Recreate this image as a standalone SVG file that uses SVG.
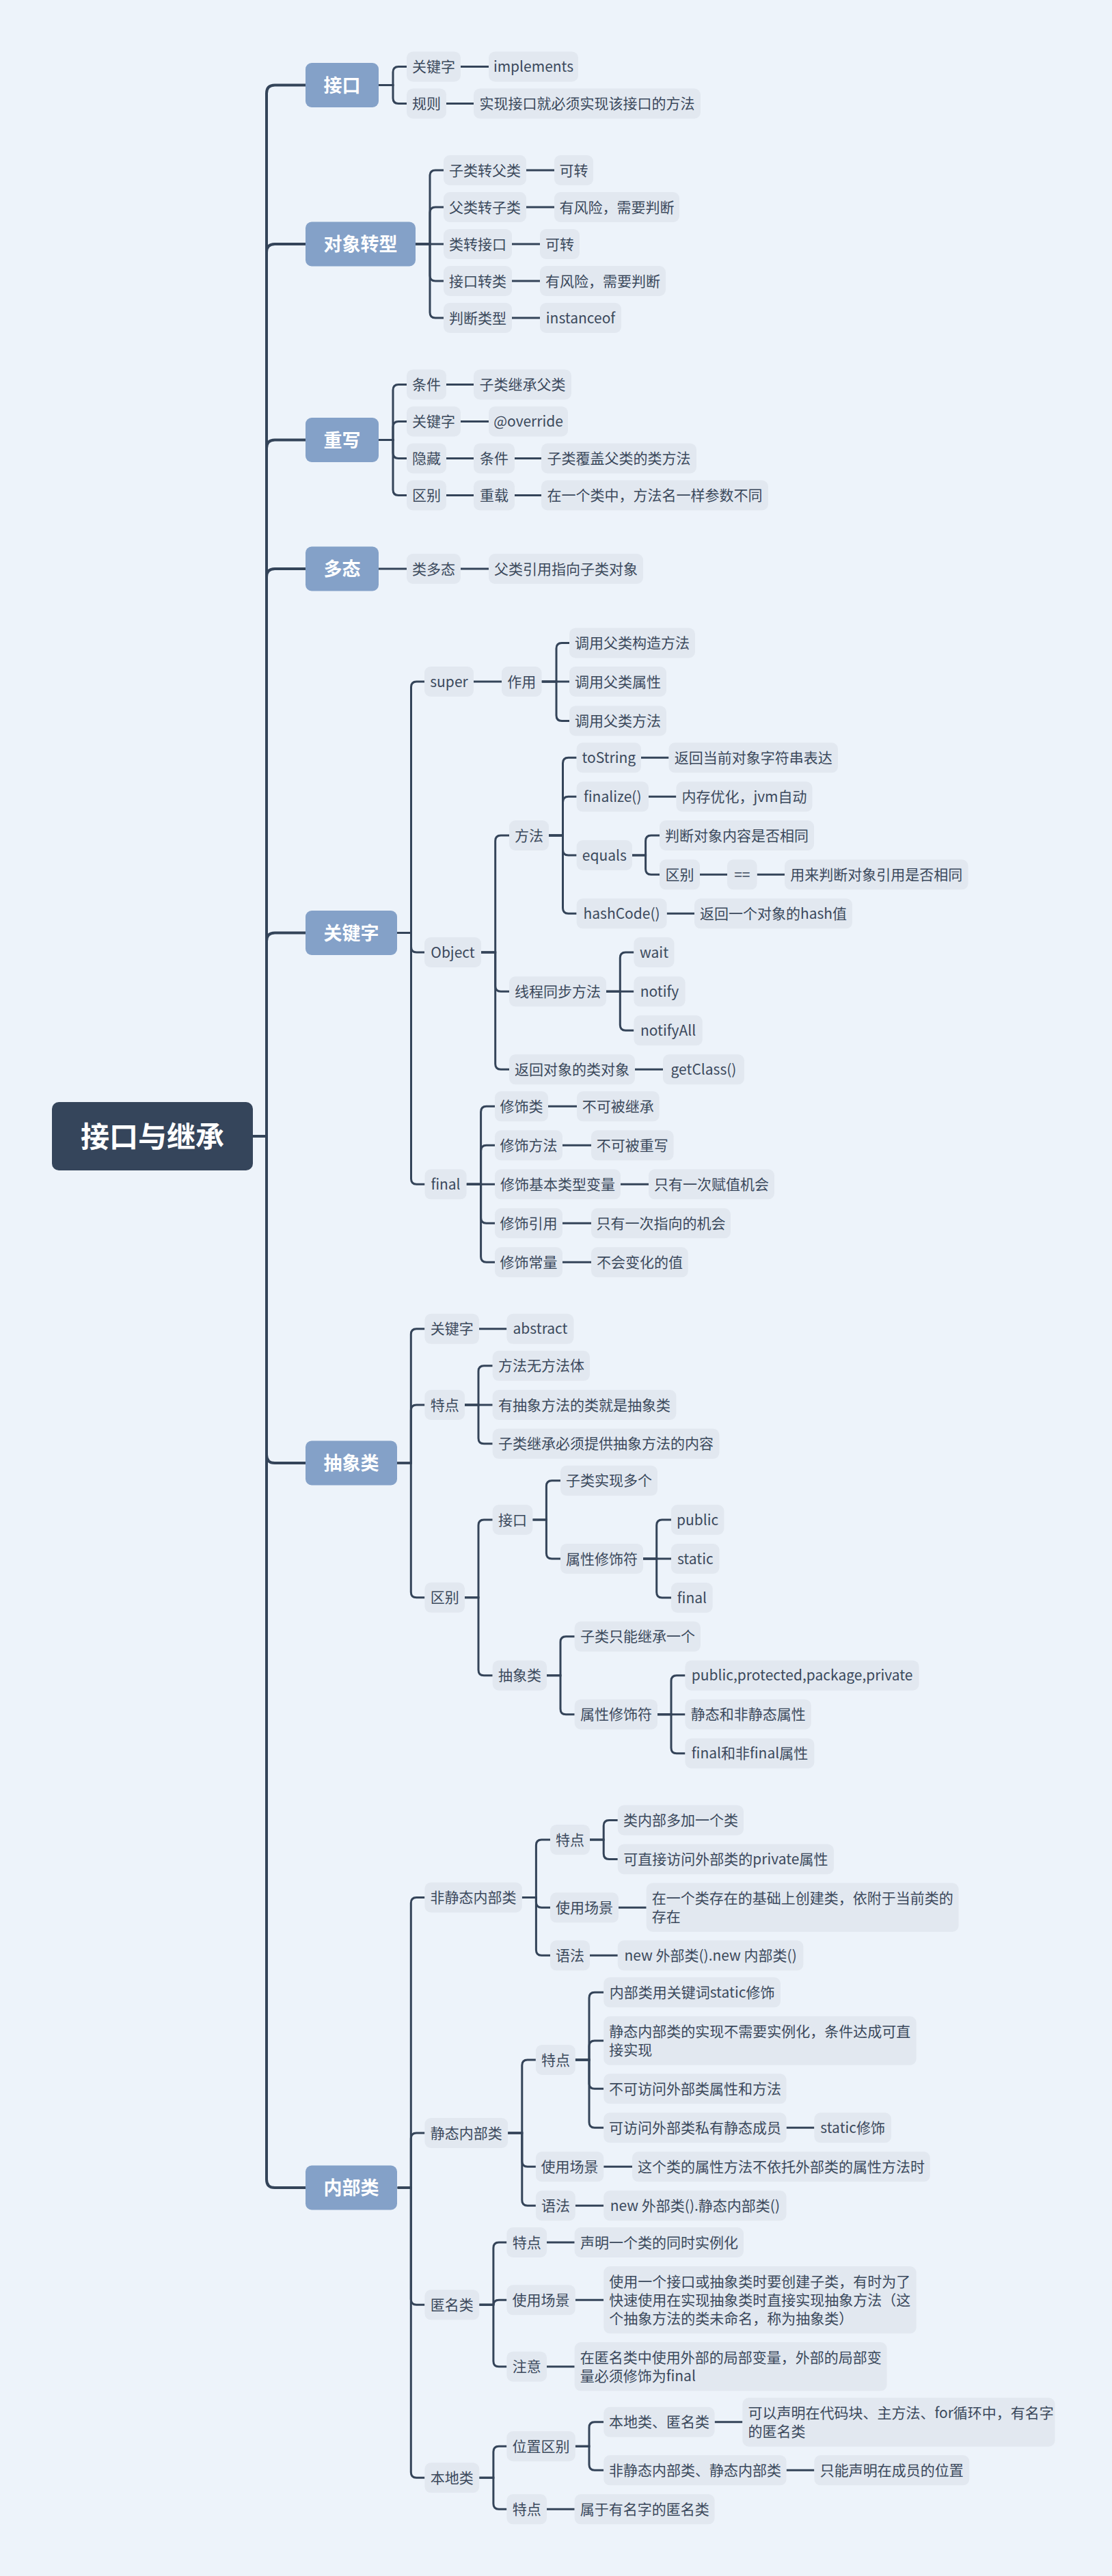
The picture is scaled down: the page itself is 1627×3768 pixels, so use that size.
<svg xmlns="http://www.w3.org/2000/svg" width="1627" height="3768" viewBox="0 0 1627 3768">
<style>
.bg{fill:#EDF3FA}
.n{fill:#E2E8F0}
.b{fill:#84A1C8}
.r{fill:#35455B}
text{font-family:'Noto Sans CJK SC','Noto Sans',sans-serif}
.t{font-size:21px;fill:#3B495C;text-anchor:middle}
.tl{font-size:21px;fill:#3B495C;text-anchor:start}
.bt{font-size:27px;font-weight:bold;fill:#FFFFFF;text-anchor:middle}
.rt{font-size:42px;font-weight:bold;fill:#FFFFFF;text-anchor:middle}
.c{fill:none;stroke:#344459;stroke-width:3}
.m{fill:none;stroke:#344459;stroke-width:4}
</style>
<rect class="bg" x="0" y="0" width="1627" height="3768"/>
<g id="connectors">
<g class="m">
<path d="M370 1662 H390 V136.5 Q390 124.5 402 124.5 H447"/>
<path d="M370 1662 H390 V369 Q390 357 402 357 H447"/>
<path d="M370 1662 H390 V655.5 Q390 643.5 402 643.5 H447"/>
<path d="M370 1662 H390 V844 Q390 832 402 832 H447"/>
<path d="M370 1662 H390 V1376.5 Q390 1364.5 402 1364.5 H447"/>
<path d="M370 1662 H390 V2128 Q390 2140 402 2140 H447"/>
<path d="M370 1662 H390 V3188 Q390 3200 402 3200 H447"/>
</g>
<g class="c">
<path d="M554 124.5 H575 V105.5 Q575 97.5 583 97.5 H595"/>
<path d="M554 124.5 H575 V143.5 Q575 151.5 583 151.5 H595"/>
<path d="M674 97.5 H715"/>
<path d="M653 151.5 H693"/>
<path d="M608 357 H629 V257 Q629 249 637 249 H649"/>
<path d="M608 357 H629 V311 Q629 303 637 303 H649"/>
<path d="M608 357 H649"/>
<path d="M608 357 H629 V403 Q629 411 637 411 H649"/>
<path d="M608 357 H629 V457 Q629 465 637 465 H649"/>
<path d="M770 249 H811"/><path d="M770 303 H811"/><path d="M749 357 H790"/><path d="M749 411 H790"/><path d="M749 465 H790"/>
<path d="M554 643.5 H575 V570.5 Q575 562.5 583 562.5 H595"/>
<path d="M554 643.5 H575 V624.5 Q575 616.5 583 616.5 H595"/>
<path d="M554 643.5 H575 V662.5 Q575 670.5 583 670.5 H595"/>
<path d="M554 643.5 H575 V716.5 Q575 724.5 583 724.5 H595"/>
<path d="M653 562.5 H693"/><path d="M674 616.5 H715"/><path d="M653 670.5 H693"/><path d="M753 670.5 H792"/><path d="M653 724.5 H693"/><path d="M753 724.5 H792"/>
<path d="M554 832 H595"/><path d="M674 832 H715"/>
<path d="M581 1364.5 H601.5 V1005 Q601.5 997 609.5 997 H621"/>
<path d="M581 1364.5 H601.5 V1385 Q601.5 1393 609.5 1393 H621"/>
<path d="M581 1364.5 H601.5 V1724.3 Q601.5 1732.3 609.5 1732.3 H621.5"/>
<path d="M693 997 H734"/>
<path d="M792.5 997 H814 V948.5 Q814 940.5 822 940.5 H833"/>
<path d="M792.5 997 H833"/>
<path d="M792.5 997 H814 V1046.5 Q814 1054.5 822 1054.5 H833"/>
<path d="M704 1393 H724.7 V1230 Q724.7 1222 732.7 1222 H745"/>
<path d="M704 1393 H724.7 V1442.3 Q724.7 1450.3 732.7 1450.3 H745"/>
<path d="M704 1393 H724.7 V1556.3 Q724.7 1564.3 732.7 1564.3 H745"/>
<path d="M803 1222 H823.5 V1116.3 Q823.5 1108.3 831.5 1108.3 H843.6"/>
<path d="M803 1222 H823.5 V1173.3 Q823.5 1165.3 831.5 1165.3 H843.6"/>
<path d="M803 1222 H823.5 V1243 Q823.5 1251 831.5 1251 H843.6"/>
<path d="M803 1222 H823.5 V1328.3 Q823.5 1336.3 831.5 1336.3 H843.6"/>
<path d="M938 1108.3 H978.5"/><path d="M949 1165.3 H989.4"/>
<path d="M925 1251 H944.6 V1230 Q944.6 1222 952.6 1222 H965"/>
<path d="M925 1251 H944.6 V1271.3 Q944.6 1279.3 952.6 1279.3 H965"/>
<path d="M1024 1279.3 H1064"/><path d="M1107.6 1279.3 H1148"/>
<path d="M975.6 1336.3 H1016"/>
<path d="M887 1450.3 H907.3 V1401 Q907.3 1393 915.3 1393 H927.4"/>
<path d="M887 1450.3 H927.4"/>
<path d="M887 1450.3 H907.3 V1499.3 Q907.3 1507.3 915.3 1507.3 H927.4"/>
<path d="M929 1564.3 H970"/>
<path d="M682.6 1732.3 H703.6 V1626.3 Q703.6 1618.3 711.6 1618.3 H724"/>
<path d="M682.6 1732.3 H703.6 V1683.3 Q703.6 1675.3 711.6 1675.3 H724"/>
<path d="M682.6 1732.3 H724"/>
<path d="M682.6 1732.3 H703.6 V1781.3 Q703.6 1789.3 711.6 1789.3 H724"/>
<path d="M682.6 1732.3 H703.6 V1838.3 Q703.6 1846.3 711.6 1846.3 H724"/>
<path d="M802 1618.3 H844"/><path d="M823 1675.3 H865"/><path d="M908 1732.3 H949"/><path d="M823 1789.3 H865"/><path d="M823 1846.3 H865"/>
<path d="M581 2140 H601.3 V1951.8 Q601.3 1943.8 609.3 1943.8 H621.4"/>
<path d="M581 2140 H601.3 V2063 Q601.3 2055 609.3 2055 H621.4"/>
<path d="M581 2140 H601.3 V2328.8 Q601.3 2336.8 609.3 2336.8 H621.4"/>
<path d="M701 1943.8 H741.4"/>
<path d="M680 2055 H700 V2005.8 Q700 1997.8 708 1997.8 H720.7"/>
<path d="M680 2055 H720.7"/>
<path d="M680 2055 H700 V2103.8 Q700 2111.8 708 2111.8 H720.7"/>
<path d="M680 2336.8 H700 V2231 Q700 2223 708 2223 H720.7"/>
<path d="M680 2336.8 H700 V2442.7 Q700 2450.7 708 2450.7 H720.7"/>
<path d="M779.3 2223 H799.4 V2173.8 Q799.4 2165.8 807.4 2165.8 H820"/>
<path d="M779.3 2223 H799.4 V2272 Q799.4 2280 807.4 2280 H820"/>
<path d="M941 2280 H960.7 V2231 Q960.7 2223 968.7 2223 H982"/>
<path d="M941 2280 H982"/>
<path d="M941 2280 H960.7 V2329 Q960.7 2337 968.7 2337 H982"/>
<path d="M800 2450.7 H820 V2401.8 Q820 2393.8 828 2393.8 H840.7"/>
<path d="M800 2450.7 H820 V2499.7 Q820 2507.7 828 2507.7 H840.7"/>
<path d="M962 2507.7 H982 V2458.7 Q982 2450.7 990 2450.7 H1002.5"/>
<path d="M962 2507.7 H1002.5"/>
<path d="M962 2507.7 H982 V2556.7 Q982 2564.7 990 2564.7 H1002.5"/>
<path d="M581.7 3200 H601.3 V2783.5 Q601.3 2775.5 609.3 2775.5 H621.4"/>
<path d="M581.7 3200 H601.3 V3128 Q601.3 3120 609.3 3120 H621.4"/>
<path d="M581.7 3200 H601.3 V3363.3 Q601.3 3371.3 609.3 3371.3 H621.4"/>
<path d="M581.7 3200 H601.3 V3616.3 Q601.3 3624.3 609.3 3624.3 H621.4"/>
<path d="M763.8 2775.5 H784.4 V2699 Q784.4 2691 792.4 2691 H805"/>
<path d="M763.8 2775.5 H784.4 V2782.3 Q784.4 2790.3 792.4 2790.3 H805"/>
<path d="M763.8 2775.5 H784.4 V2852.3 Q784.4 2860.3 792.4 2860.3 H805"/>
<path d="M863 2691 H883.2 V2670.5 Q883.2 2662.5 891.2 2662.5 H903.8"/>
<path d="M863 2691 H883.2 V2711.5 Q883.2 2719.5 891.2 2719.5 H903.8"/>
<path d="M905 2790.3 H945.7"/>
<path d="M863 2860.3 H903.8"/>
<path d="M743.1 3120 H763.8 V3021 Q763.8 3013 771.8 3013 H783.9"/>
<path d="M743.1 3120 H763.8 V3161.3 Q763.8 3169.3 771.8 3169.3 H783.9"/>
<path d="M743.1 3120 H763.8 V3218.3 Q763.8 3226.3 771.8 3226.3 H783.9"/>
<path d="M841.8 3013 H862 V2922.3 Q862 2914.3 870 2914.3 H883.2"/>
<path d="M841.8 3013 H862 V2993 Q862 2985 870 2985 H883.2"/>
<path d="M841.8 3013 H862 V3047.3 Q862 3055.3 870 3055.3 H883.2"/>
<path d="M841.8 3013 H862 V3104.3 Q862 3112.3 870 3112.3 H883.2"/>
<path d="M1150.6 3112.3 H1191.4"/>
<path d="M883.2 3169.3 H925"/>
<path d="M841.8 3226.3 H883.2"/>
<path d="M701.2 3371.3 H721.9 V3288 Q721.9 3280 729.9 3280 H741.4"/>
<path d="M701.2 3371.3 H721.9 V3372.3 Q721.9 3364.3 729.9 3364.3 H741.4"/>
<path d="M701.2 3371.3 H721.9 V3453.7 Q721.9 3461.7 729.9 3461.7 H741.4"/>
<path d="M800 3280 H840.7"/><path d="M841.8 3364.3 H883.2"/><path d="M800 3461.7 H840.7"/>
<path d="M701.2 3624.3 H721.9 V3586.2 Q721.9 3578.2 729.9 3578.2 H741.4"/>
<path d="M701.2 3624.3 H721.9 V3662.3 Q721.9 3670.3 729.9 3670.3 H741.4"/>
<path d="M841.8 3578.2 H862 V3550.8 Q862 3542.8 870 3542.8 H883.2"/>
<path d="M841.8 3578.2 H862 V3605.3 Q862 3613.3 870 3613.3 H883.2"/>
<path d="M1045.6 3542.8 H1086.4"/><path d="M1150.6 3613.3 H1191.4"/><path d="M800 3670.3 H840.7"/>
</g>
</g>
<g id="root"><rect class="r" x="76" y="1612" width="294" height="100" rx="10"/><text class="rt" x="223" y="1678">接口与继承</text></g>
<g id="l1-jiekou"><rect class="b" x="447" y="92" width="107" height="65" rx="9"/><text class="bt" x="500.5" y="134.5">接口</text></g>
<g id="l1-zhuanxing"><rect class="b" x="447" y="324.5" width="161" height="65" rx="9"/><text class="bt" x="527.5" y="367">对象转型</text></g>
<g id="l1-chongxie"><rect class="b" x="447" y="611" width="107" height="65" rx="9"/><text class="bt" x="500.5" y="653.5">重写</text></g>
<g id="l1-duotai"><rect class="b" x="447" y="799.5" width="107" height="65" rx="9"/><text class="bt" x="500.5" y="842">多态</text></g>
<g id="l1-guanjianzi"><rect class="b" x="447" y="1332" width="134" height="65" rx="9"/><text class="bt" x="514" y="1374.5">关键字</text></g>
<g id="l1-chouxiang"><rect class="b" x="447" y="2107.5" width="134" height="65" rx="9"/><text class="bt" x="514" y="2150">抽象类</text></g>
<g id="l1-neibu"><rect class="b" x="447" y="3167.5" width="134" height="65" rx="9"/><text class="bt" x="514" y="3210">内部类</text></g>

<g id="n1"><rect class="n" x="595" y="75.5" width="79" height="44" rx="9"/><text class="t" x="634.5" y="105">关键字</text></g>
<g id="n2"><rect class="n" x="715" y="75.5" width="131" height="44" rx="9"/><text class="t" x="780.5" y="105">implements</text></g>
<g id="n3"><rect class="n" x="595" y="129.5" width="58" height="44" rx="9"/><text class="t" x="624" y="159">规则</text></g>
<g id="n4"><rect class="n" x="693" y="129.5" width="332" height="44" rx="9"/><text class="t" x="859" y="159">实现接口就必须实现该接口的方法</text></g>

<g id="n5"><rect class="n" x="649" y="227" width="121" height="44" rx="9"/><text class="t" x="709.5" y="256.5">子类转父类</text></g>
<g id="n6"><rect class="n" x="811" y="227" width="57" height="44" rx="9"/><text class="t" x="839.5" y="256.5">可转</text></g>
<g id="n7"><rect class="n" x="649" y="281" width="121" height="44" rx="9"/><text class="t" x="709.5" y="310.5">父类转子类</text></g>
<g id="n8"><rect class="n" x="811" y="281" width="183" height="44" rx="9"/><text class="t" x="902.5" y="310.5">有风险，需要判断</text></g>
<g id="n9"><rect class="n" x="649" y="335" width="100" height="44" rx="9"/><text class="t" x="699" y="364.5">类转接口</text></g>
<g id="n10"><rect class="n" x="790" y="335" width="58" height="44" rx="9"/><text class="t" x="819" y="364.5">可转</text></g>
<g id="n11"><rect class="n" x="649" y="389" width="100" height="44" rx="9"/><text class="t" x="699" y="418.5">接口转类</text></g>
<g id="n12"><rect class="n" x="790" y="389" width="184" height="44" rx="9"/><text class="t" x="882" y="418.5">有风险，需要判断</text></g>
<g id="n13"><rect class="n" x="649" y="443" width="100" height="44" rx="9"/><text class="t" x="699" y="472.5">判断类型</text></g>
<g id="n14"><rect class="n" x="790" y="443" width="119" height="44" rx="9"/><text class="t" x="849.5" y="472.5">instanceof</text></g>

<g id="n15"><rect class="n" x="595" y="540.5" width="58" height="44" rx="9"/><text class="t" x="624" y="570">条件</text></g>
<g id="n16"><rect class="n" x="693" y="540.5" width="143" height="44" rx="9"/><text class="t" x="764.5" y="570">子类继承父类</text></g>
<g id="n17"><rect class="n" x="595" y="594.5" width="79" height="44" rx="9"/><text class="t" x="634.5" y="624">关键字</text></g>
<g id="n18"><rect class="n" x="715" y="594.5" width="116" height="44" rx="9"/><text class="t" x="773" y="624">@override</text></g>
<g id="n19"><rect class="n" x="595" y="648.5" width="58" height="44" rx="9"/><text class="t" x="624" y="678">隐藏</text></g>
<g id="n20"><rect class="n" x="693" y="648.5" width="60" height="44" rx="9"/><text class="t" x="723" y="678">条件</text></g>
<g id="n21"><rect class="n" x="792" y="648.5" width="227" height="44" rx="9"/><text class="t" x="905.5" y="678">子类覆盖父类的类方法</text></g>
<g id="n22"><rect class="n" x="595" y="702.5" width="58" height="44" rx="9"/><text class="t" x="624" y="732">区别</text></g>
<g id="n23"><rect class="n" x="693" y="702.5" width="60" height="44" rx="9"/><text class="t" x="723" y="732">重载</text></g>
<g id="n24"><rect class="n" x="792" y="702.5" width="332" height="44" rx="9"/><text class="t" x="958" y="732">在一个类中，方法名一样参数不同</text></g>

<g id="n25"><rect class="n" x="595" y="810" width="79" height="44" rx="9"/><text class="t" x="634.5" y="839.5">类多态</text></g>
<g id="n26"><rect class="n" x="715" y="810" width="226" height="44" rx="9"/><text class="t" x="828" y="839.5">父类引用指向子类对象</text></g>

<g id="n27"><rect class="n" x="621" y="975" width="72" height="44" rx="9"/><text class="t" x="657" y="1004.5">super</text></g>
<g id="n28"><rect class="n" x="734" y="975" width="58.5" height="44" rx="9"/><text class="t" x="763.3" y="1004.5">作用</text></g>
<g id="n29"><rect class="n" x="833" y="918.5" width="184" height="44" rx="9"/><text class="t" x="925" y="948">调用父类构造方法</text></g>
<g id="n30"><rect class="n" x="833" y="975" width="142" height="44" rx="9"/><text class="t" x="904" y="1004.5">调用父类属性</text></g>
<g id="n31"><rect class="n" x="833" y="1032.5" width="142" height="44" rx="9"/><text class="t" x="904" y="1062">调用父类方法</text></g>
<g id="n32"><rect class="n" x="621" y="1371" width="83" height="44" rx="9"/><text class="t" x="662.5" y="1400.5">Object</text></g>
<g id="n33"><rect class="n" x="745" y="1200" width="58" height="44" rx="9"/><text class="t" x="774" y="1229.5">方法</text></g>
<g id="n34"><rect class="n" x="843.6" y="1086.3" width="94.4" height="44" rx="9"/><text class="t" x="890.8" y="1115.8">toString</text></g>
<g id="n35"><rect class="n" x="978.5" y="1086.3" width="247.5" height="44" rx="9"/><text class="t" x="1102.3" y="1115.8">返回当前对象字符串表达</text></g>
<g id="n36"><rect class="n" x="843.6" y="1143.3" width="105.4" height="44" rx="9"/><text class="t" x="896.3" y="1172.8">finalize()</text></g>
<g id="n37"><rect class="n" x="989.4" y="1143.3" width="199.1" height="44" rx="9"/><text class="t" x="1089" y="1172.8">内存优化，jvm自动</text></g>
<g id="n38"><rect class="n" x="843.6" y="1229" width="81.4" height="44" rx="9"/><text class="t" x="884.3" y="1258.5">equals</text></g>
<g id="n39"><rect class="n" x="965" y="1200" width="226" height="44" rx="9"/><text class="t" x="1078" y="1229.5">判断对象内容是否相同</text></g>
<g id="n40"><rect class="n" x="965" y="1257.3" width="59" height="44" rx="9"/><text class="t" x="994.5" y="1286.8">区别</text></g>
<g id="n41"><rect class="n" x="1064" y="1257.3" width="43.6" height="44" rx="9"/><text class="t" x="1085.8" y="1286.8">==</text></g>
<g id="n42"><rect class="n" x="1148" y="1257.3" width="268.5" height="44" rx="9"/><text class="t" x="1282.3" y="1286.8">用来判断对象引用是否相同</text></g>
<g id="n43"><rect class="n" x="843.6" y="1314.3" width="132" height="44" rx="9"/><text class="t" x="909.6" y="1343.8">hashCode()</text></g>
<g id="n44"><rect class="n" x="1016" y="1314.3" width="231" height="44" rx="9"/><text class="t" x="1131.5" y="1343.8">返回一个对象的hash值</text></g>
<g id="n45"><rect class="n" x="745" y="1428.3" width="142" height="44" rx="9"/><text class="t" x="816" y="1457.8">线程同步方法</text></g>
<g id="n46"><rect class="n" x="927.4" y="1371" width="59.1" height="44" rx="9"/><text class="t" x="957" y="1400.5">wait</text></g>
<g id="n47"><rect class="n" x="927.4" y="1428.3" width="75.2" height="44" rx="9"/><text class="t" x="965" y="1457.8">notify</text></g>
<g id="n48"><rect class="n" x="927.4" y="1485.3" width="100.4" height="44" rx="9"/><text class="t" x="977.6" y="1514.8">notifyAll</text></g>
<g id="n49"><rect class="n" x="745" y="1542.3" width="184" height="44" rx="9"/><text class="t" x="837" y="1571.8">返回对象的类对象</text></g>
<g id="n50"><rect class="n" x="970" y="1542.3" width="119" height="44" rx="9"/><text class="t" x="1029.5" y="1571.8">getClass()</text></g>
<g id="n51"><rect class="n" x="621.5" y="1710.3" width="61.1" height="44" rx="9"/><text class="t" x="652" y="1739.8">final</text></g>
<g id="n52"><rect class="n" x="724" y="1596.3" width="78" height="44" rx="9"/><text class="t" x="763" y="1625.8">修饰类</text></g>
<g id="n53"><rect class="n" x="844" y="1596.3" width="120.6" height="44" rx="9"/><text class="t" x="904.3" y="1625.8">不可被继承</text></g>
<g id="n54"><rect class="n" x="724" y="1653.3" width="99" height="44" rx="9"/><text class="t" x="773.5" y="1682.8">修饰方法</text></g>
<g id="n55"><rect class="n" x="865" y="1653.3" width="120.6" height="44" rx="9"/><text class="t" x="925.3" y="1682.8">不可被重写</text></g>
<g id="n56"><rect class="n" x="724" y="1710.3" width="184" height="44" rx="9"/><text class="t" x="816" y="1739.8">修饰基本类型变量</text></g>
<g id="n57"><rect class="n" x="949" y="1710.3" width="184" height="44" rx="9"/><text class="t" x="1041" y="1739.8">只有一次赋值机会</text></g>
<g id="n58"><rect class="n" x="724" y="1767.3" width="99" height="44" rx="9"/><text class="t" x="773.5" y="1796.8">修饰引用</text></g>
<g id="n59"><rect class="n" x="865" y="1767.3" width="204" height="44" rx="9"/><text class="t" x="967" y="1796.8">只有一次指向的机会</text></g>
<g id="n60"><rect class="n" x="724" y="1824.3" width="99" height="44" rx="9"/><text class="t" x="773.5" y="1853.8">修饰常量</text></g>
<g id="n61"><rect class="n" x="865" y="1824.3" width="141.7" height="44" rx="9"/><text class="t" x="935.9" y="1853.8">不会变化的值</text></g>

<g id="n62"><rect class="n" x="621.4" y="1921.8" width="79.6" height="44" rx="9"/><text class="t" x="661.2" y="1951.3">关键字</text></g>
<g id="n63"><rect class="n" x="741.4" y="1921.8" width="98.1" height="44" rx="9"/><text class="t" x="790.5" y="1951.3">abstract</text></g>
<g id="n64"><rect class="n" x="621.4" y="2033" width="58.6" height="44" rx="9"/><text class="t" x="650.7" y="2062.5">特点</text></g>
<g id="n65"><rect class="n" x="720.7" y="1975.8" width="142.3" height="44" rx="9"/><text class="t" x="791.9" y="2005.3">方法无方法体</text></g>
<g id="n66"><rect class="n" x="720.7" y="2033" width="268.7" height="44" rx="9"/><text class="t" x="855.1" y="2062.5">有抽象方法的类就是抽象类</text></g>
<g id="n67"><rect class="n" x="720.7" y="2089.8" width="331.8" height="44" rx="9"/><text class="t" x="886.6" y="2119.3">子类继承必须提供抽象方法的内容</text></g>
<g id="n68"><rect class="n" x="621.4" y="2314.8" width="58.6" height="44" rx="9"/><text class="t" x="650.7" y="2344.3">区别</text></g>
<g id="n69"><rect class="n" x="720.7" y="2201" width="58.6" height="44" rx="9"/><text class="t" x="750" y="2230.5">接口</text></g>
<g id="n70"><rect class="n" x="820" y="2143.8" width="142" height="44" rx="9"/><text class="t" x="891" y="2173.3">子类实现多个</text></g>
<g id="n71"><rect class="n" x="820" y="2258" width="121" height="44" rx="9"/><text class="t" x="880.5" y="2287.5">属性修饰符</text></g>
<g id="n72"><rect class="n" x="982" y="2201" width="77.4" height="44" rx="9"/><text class="t" x="1020.7" y="2230.5">public</text></g>
<g id="n73"><rect class="n" x="982" y="2258" width="70.5" height="44" rx="9"/><text class="t" x="1017.3" y="2287.5">static</text></g>
<g id="n74"><rect class="n" x="982" y="2315" width="60.7" height="44" rx="9"/><text class="t" x="1012.4" y="2344.5">final</text></g>
<g id="n75"><rect class="n" x="720.7" y="2428.7" width="79.3" height="44" rx="9"/><text class="t" x="760.4" y="2458.2">抽象类</text></g>
<g id="n76"><rect class="n" x="840.7" y="2371.8" width="184.3" height="44" rx="9"/><text class="t" x="932.9" y="2401.3">子类只能继承一个</text></g>
<g id="n77"><rect class="n" x="840.7" y="2485.7" width="121.3" height="44" rx="9"/><text class="t" x="901.4" y="2515.2">属性修饰符</text></g>
<g id="n78"><rect class="n" x="1002.5" y="2428.7" width="342.1" height="44" rx="9"/><text class="t" x="1173.6" y="2458.2">public,protected,package,private</text></g>
<g id="n79"><rect class="n" x="1002.5" y="2485.7" width="184.3" height="44" rx="9"/><text class="t" x="1094.7" y="2515.2">静态和非静态属性</text></g>
<g id="n80"><rect class="n" x="1002.5" y="2542.7" width="188.9" height="44" rx="9"/><text class="t" x="1097" y="2572.2">final和非final属性</text></g>

<g id="n81"><rect class="n" x="621.4" y="2753.5" width="142.4" height="44" rx="9"/><text class="t" x="692.6" y="2783">非静态内部类</text></g>
<g id="n82"><rect class="n" x="805" y="2669" width="58" height="44" rx="9"/><text class="t" x="834" y="2698.5">特点</text></g>
<g id="n83"><rect class="n" x="903.8" y="2640.5" width="184.2" height="44" rx="9"/><text class="t" x="995.9" y="2670">类内部多加一个类</text></g>
<g id="n84"><rect class="n" x="903.8" y="2697.5" width="316.2" height="44" rx="9"/><text class="t" x="1061.9" y="2727">可直接访问外部类的private属性</text></g>
<g id="n85"><rect class="n" x="805" y="2768.3" width="100" height="44" rx="9"/><text class="t" x="855" y="2797.8">使用场景</text></g>
<g id="n86"><rect class="n" x="945.7" y="2754.3" width="456.9" height="71.4" rx="9"/><text class="tl" x="953.7" y="2784">在一个类存在的基础上创建类，依附于当前类的</text><text class="tl" x="953.7" y="2811">存在</text></g>
<g id="n87"><rect class="n" x="805" y="2838.3" width="58" height="44" rx="9"/><text class="t" x="834" y="2867.8">语法</text></g>
<g id="n88"><rect class="n" x="903.8" y="2838.3" width="271.6" height="44" rx="9"/><text class="t" x="1039.6" y="2867.8">new 外部类().new 内部类()</text></g>
<g id="n89"><rect class="n" x="621.4" y="3098" width="121.7" height="44" rx="9"/><text class="t" x="682.3" y="3127.5">静态内部类</text></g>
<g id="n90"><rect class="n" x="783.9" y="2991" width="57.9" height="44" rx="9"/><text class="t" x="812.9" y="3020.5">特点</text></g>
<g id="n91"><rect class="n" x="883.2" y="2892.3" width="258.8" height="44" rx="9"/><text class="t" x="1012.6" y="2921.8">内部类用关键词static修饰</text></g>
<g id="n92"><rect class="n" x="883.2" y="2949.3" width="457.5" height="71.4" rx="9"/><text class="tl" x="891.2" y="2979">静态内部类的实现不需要实例化，条件达成可直</text><text class="tl" x="891.2" y="3006">接实现</text></g>
<g id="n93"><rect class="n" x="883.2" y="3033.3" width="267.4" height="44" rx="9"/><text class="t" x="1016.9" y="3062.8">不可访问外部类属性和方法</text></g>
<g id="n94"><rect class="n" x="883.2" y="3090.3" width="267.4" height="44" rx="9"/><text class="t" x="1016.9" y="3119.8">可访问外部类私有静态成员</text></g>
<g id="n95"><rect class="n" x="1191.4" y="3090.3" width="112.6" height="44" rx="9"/><text class="t" x="1247.7" y="3119.8">static修饰</text></g>
<g id="n96"><rect class="n" x="783.9" y="3147.3" width="99.3" height="44" rx="9"/><text class="t" x="833.6" y="3176.8">使用场景</text></g>
<g id="n97"><rect class="n" x="925" y="3147.3" width="435.8" height="44" rx="9"/><text class="t" x="1142.9" y="3176.8">这个类的属性方法不依托外部类的属性方法时</text></g>
<g id="n98"><rect class="n" x="783.9" y="3204.3" width="57.9" height="44" rx="9"/><text class="t" x="812.9" y="3233.8">语法</text></g>
<g id="n99"><rect class="n" x="883.2" y="3204.3" width="267.4" height="44" rx="9"/><text class="t" x="1016.9" y="3233.8">new 外部类().静态内部类()</text></g>
<g id="n100"><rect class="n" x="621.4" y="3349.3" width="79.8" height="44" rx="9"/><text class="t" x="661.3" y="3378.8">匿名类</text></g>
<g id="n101"><rect class="n" x="741.4" y="3258" width="58.6" height="44" rx="9"/><text class="t" x="770.7" y="3287.5">特点</text></g>
<g id="n102"><rect class="n" x="840.7" y="3258" width="247.3" height="44" rx="9"/><text class="t" x="964.4" y="3287.5">声明一个类的同时实例化</text></g>
<g id="n103"><rect class="n" x="741.4" y="3342.3" width="100.4" height="44" rx="9"/><text class="t" x="791.6" y="3371.8">使用场景</text></g>
<g id="n104"><rect class="n" x="883.2" y="3315" width="457.5" height="98.3" rx="9"/><text class="tl" x="891.2" y="3344.6">使用一个接口或抽象类时要创建子类，有时为了</text><text class="tl" x="891.2" y="3371.6">快速使用在实现抽象类时直接实现抽象方法（这</text><text class="tl" x="891.2" y="3398.6">个抽象方法的类未命名，称为抽象类）</text></g>
<g id="n105"><rect class="n" x="741.4" y="3439.7" width="58.6" height="44" rx="9"/><text class="t" x="770.7" y="3469.2">注意</text></g>
<g id="n106"><rect class="n" x="840.7" y="3426" width="456.9" height="71.3" rx="9"/><text class="tl" x="848.7" y="3455.6">在匿名类中使用外部的局部变量，外部的局部变</text><text class="tl" x="848.7" y="3482.6">量必须修饰为final</text></g>
<g id="n107"><rect class="n" x="621.4" y="3602.3" width="79.8" height="44" rx="9"/><text class="t" x="661.3" y="3631.8">本地类</text></g>
<g id="n108"><rect class="n" x="741.4" y="3556.2" width="100.4" height="44" rx="9"/><text class="t" x="791.6" y="3585.7">位置区别</text></g>
<g id="n109"><rect class="n" x="883.2" y="3520.8" width="162.4" height="44" rx="9"/><text class="t" x="964.4" y="3550.3">本地类、匿名类</text></g>
<g id="n110"><rect class="n" x="1086.4" y="3507.3" width="457.1" height="71.4" rx="9"/><text class="tl" x="1094.4" y="3537">可以声明在代码块、主方法、for循环中，有名字</text><text class="tl" x="1094.4" y="3564">的匿名类</text></g>
<g id="n111"><rect class="n" x="883.2" y="3591.3" width="267.4" height="44" rx="9"/><text class="t" x="1016.9" y="3620.8">非静态内部类、静态内部类</text></g>
<g id="n112"><rect class="n" x="1191.4" y="3591.3" width="226.8" height="44" rx="9"/><text class="t" x="1304.8" y="3620.8">只能声明在成员的位置</text></g>
<g id="n113"><rect class="n" x="741.4" y="3648.3" width="58.6" height="44" rx="9"/><text class="t" x="770.7" y="3677.8">特点</text></g>
<g id="n114"><rect class="n" x="840.7" y="3648.3" width="204.9" height="44" rx="9"/><text class="t" x="943.2" y="3677.8">属于有名字的匿名类</text></g>
</svg>
